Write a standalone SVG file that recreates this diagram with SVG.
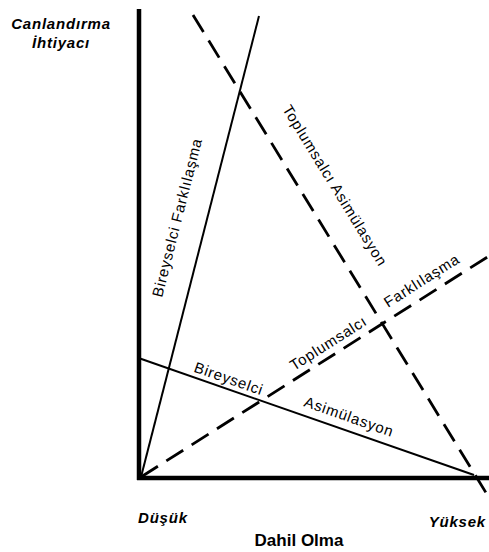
<svg xmlns="http://www.w3.org/2000/svg" width="489" height="552" viewBox="0 0 489 552">
  <style>
    .axis { stroke: #000; stroke-width: 4.5; fill: none; }
    .solid { stroke: #000; stroke-width: 2; fill: none; }
    .dash { stroke: #000; stroke-width: 2.8; fill: none; stroke-dasharray: 20 10; }
    .lbl { font-family: "Liberation Sans", Arial, sans-serif; font-size: 15px; letter-spacing: 0.8px; fill: #000; }
    .ax { font-family: "Liberation Sans", Arial, sans-serif; font-size: 15px; font-weight: bold; font-style: italic; letter-spacing: 0.8px; fill: #000; }
    .title { font-family: "Liberation Sans", Arial, sans-serif; font-size: 17px; font-weight: bold; fill: #000; }
  </style>
  <rect width="489" height="552" fill="#fff"/>

  <!-- axes -->
  <g id="axes">
    <line class="axis" x1="139" y1="9" x2="139" y2="480"/>
    <line class="axis" x1="137" y1="478" x2="489" y2="478"/>
  </g>

  <!-- trend lines -->
  <g id="connectors">
    <line class="solid" x1="141" y1="477" x2="259" y2="16"/>
    <line class="dash" x1="193" y1="15" x2="488" y2="496"/>
    <line class="dash" x1="141" y1="477" x2="489" y2="256"/>
    <line class="solid" x1="140" y1="358.5" x2="474" y2="475"/>
  </g>

  <!-- axis captions -->
  <g id="y-axis-label">
    <text class="ax" x="61" y="28.5" text-anchor="middle">Canlandırma</text>
    <text class="ax" x="61" y="48" text-anchor="middle">İhtiyacı</text>
  </g>
  <g id="x-axis-low"><text class="ax" x="138" y="523">Düşük</text></g>
  <g id="x-axis-high"><text class="ax" x="486" y="527" text-anchor="end">Yüksek</text></g>
  <g id="x-axis-title"><text class="title" x="299" y="546" text-anchor="middle">Dahil Olma</text></g>

  <!-- line labels -->
  <g id="bireyselci-farklilasma">
    <text class="lbl" transform="translate(162 298) rotate(-75.76)">Bireyselci Farklılaşma</text>
  </g>
  <g id="toplumsalci-asimulasyon">
    <text class="lbl" transform="translate(282 109) rotate(58.5)">Toplumsalcı Asimülasyon</text>
  </g>
  <g id="toplumsalci-farklilasma">
    <text class="lbl" transform="translate(294 371) rotate(-32.4)">Toplumsalcı</text>
    <text class="lbl" transform="translate(388 308) rotate(-32.4)">Farklılaşma</text>
  </g>
  <g id="bireyselci-asimilasyon">
    <text class="lbl" transform="translate(193 371.5) rotate(19.3)">Bireyselci</text>
    <text class="lbl" transform="translate(303 406) rotate(19.3)">Asimülasyon</text>
  </g>
</svg>
